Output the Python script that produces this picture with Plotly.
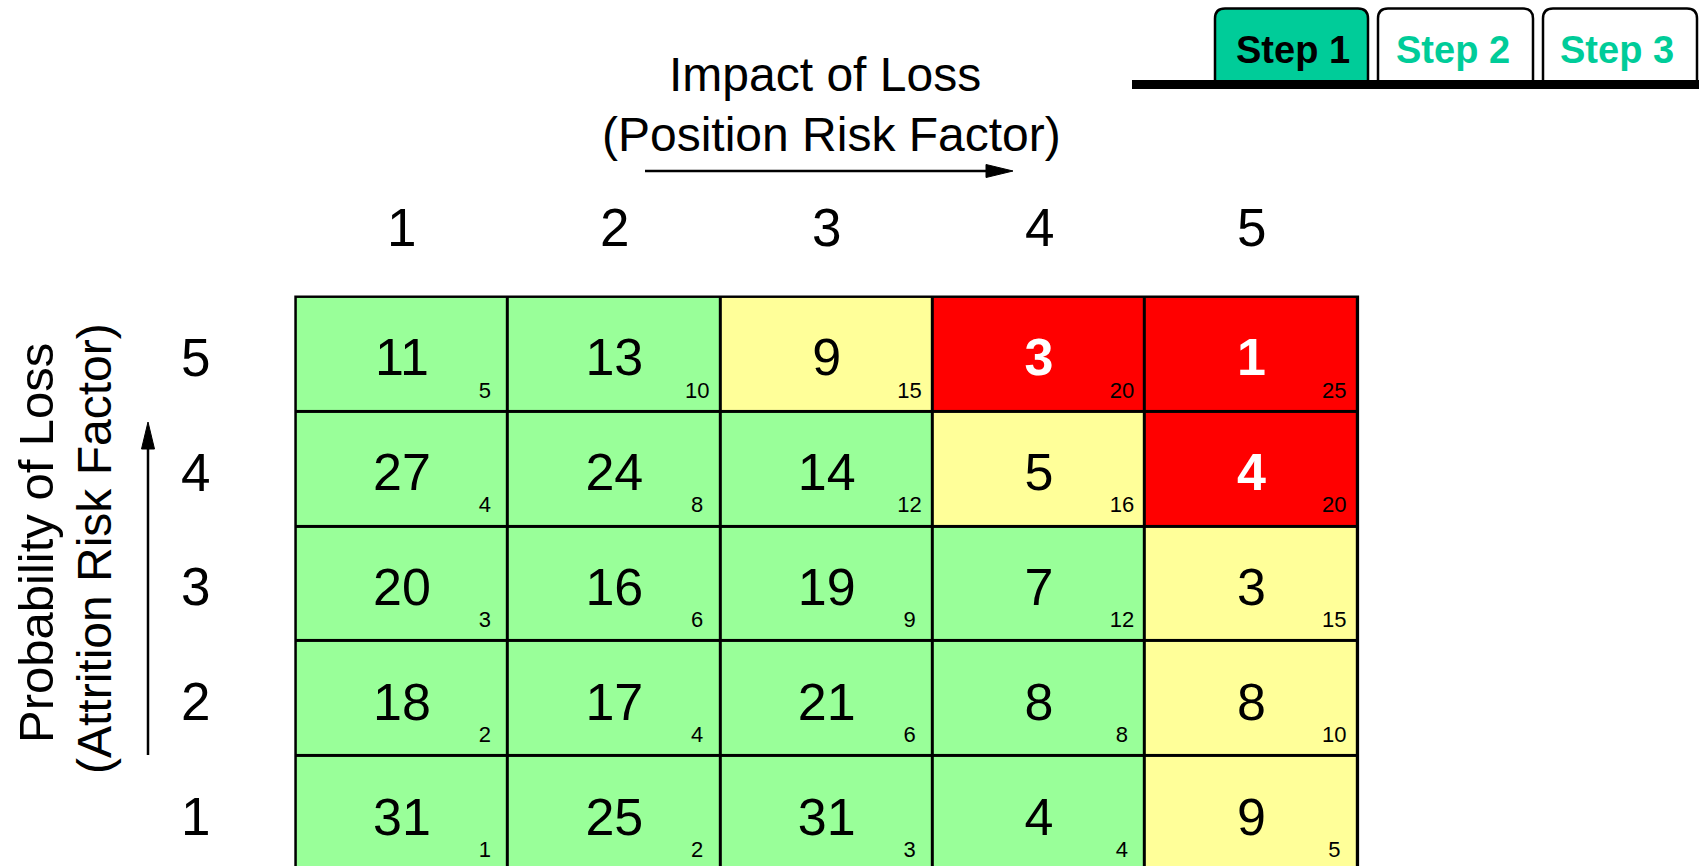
import plotly.graph_objects as go

W, H = 1699, 866
FONT = "Liberation Sans, Arial, sans-serif"

# ---------------- data ----------------
impact_levels = [1, 2, 3, 4, 5]          # Position Risk Factor (columns)
probability_levels = [1, 2, 3, 4, 5]     # Attrition Risk Factor (rows, bottom->top)
impact_labels = ["1", "2", "3", "4", "5"]
probability_labels = ["1", "2", "3", "4", "5"]

# employee counts per cell, rows = probability 1..5
counts_p1 = [31, 25, 31, 4, 9]
counts_p2 = [18, 17, 21, 8, 8]
counts_p3 = [20, 16, 19, 7, 3]
counts_p4 = [27, 24, 14, 5, 4]
counts_p5 = [11, 13, 9, 3, 1]
counts = [counts_p1, counts_p2, counts_p3, counts_p4, counts_p5]

# risk score printed in the corner of each cell
scores_p1 = [1, 2, 3, 4, 5]
scores_p2 = [2, 4, 6, 8, 10]
scores_p3 = [3, 6, 9, 12, 15]
scores_p4 = [4, 8, 12, 16, 20]
scores_p5 = [5, 10, 15, 20, 25]
scores = [scores_p1, scores_p2, scores_p3, scores_p4, scores_p5]

# risk band: 0 = low (green), 1 = medium (yellow), 2 = high (red)
risk_p1 = [0, 0, 0, 0, 1]
risk_p2 = [0, 0, 0, 0, 1]
risk_p3 = [0, 0, 0, 0, 1]
risk_p4 = [0, 0, 0, 1, 2]
risk_p5 = [0, 0, 1, 2, 2]
risk_level = [risk_p1, risk_p2, risk_p3, risk_p4, risk_p5]

step_labels = ["Step 1", "Step 2", "Step 3"]
active_step = 0

# ---------------- styles ----------------
GREEN = "#99FF99"
YELLOW = "#FFFF99"
RED = "#FF0000"
TEAL = "#00CC99"


def px(x):
    return x / W


def py(y):
    return 1 - y / H


fig = go.Figure()

fig.add_trace(go.Heatmap(
    x=impact_levels, y=probability_levels, z=risk_level,
    zmin=0, zmax=2,
    colorscale=[[0, GREEN], [1 / 3, GREEN], [1 / 3, YELLOW], [2 / 3, YELLOW],
                [2 / 3, RED], [1, RED]],
    showscale=False, xgap=3, ygap=3, hoverinfo="skip",
))

# big counts
bx, by, bt, bc = [], [], [], []
sx, sy, st = [], [], []
for i, p in enumerate(probability_levels):
    for j, imp in enumerate(impact_levels):
        high = risk_level[i][j] == 2
        bx.append(imp)
        by.append(p - 0.07)
        bt.append(f"<b>{counts[i][j]}</b>" if high else str(counts[i][j]))
        bc.append("white" if high else "black")
        sx.append(imp + 0.39)
        sy.append(p - 0.33)
        st.append(str(scores[i][j]))

fig.add_trace(go.Scatter(
    x=bx, y=by, text=bt, mode="text", textposition="middle center",
    textfont=dict(family=FONT, size=52, color=bc),
    hoverinfo="skip", cliponaxis=False, showlegend=False,
))
fig.add_trace(go.Scatter(
    x=sx, y=sy, text=st, mode="text", textposition="middle center",
    textfont=dict(family=FONT, size=22, color="black"),
    hoverinfo="skip", cliponaxis=False, showlegend=False,
))

shapes = []
# black backing -> grid lines through heatmap gaps
shapes.append(dict(
    type="rect", xref="x", yref="y", layer="below",
    x0=min(impact_levels) - 0.5, x1=max(impact_levels) + 0.5,
    y0=min(probability_levels) - 0.5, y1=max(probability_levels) + 0.5,
    fillcolor="black", line=dict(color="black", width=3),
))

# horizontal arrow under x title
shapes.append(dict(type="line", xref="paper", yref="paper",
                   x0=px(645), x1=px(990), y0=py(171), y1=py(171),
                   line=dict(color="black", width=2.5)))
shapes.append(dict(type="path", xref="paper", yref="paper",
                   path=f"M{px(1013)},{py(171)} L{px(986)},{py(164.5)} L{px(986)},{py(177.5)} Z",
                   fillcolor="black", line=dict(color="black", width=1)))
# vertical arrow beside y title
shapes.append(dict(type="line", xref="paper", yref="paper",
                   x0=px(148), x1=px(148), y0=py(755), y1=py(445),
                   line=dict(color="black", width=2.5)))
shapes.append(dict(type="path", xref="paper", yref="paper",
                   path=f"M{px(148)},{py(422)} L{px(141.5)},{py(449)} L{px(154.5)},{py(449)} Z",
                   fillcolor="black", line=dict(color="black", width=1)))


def tab_path(x0, x1, yt, yb, r):
    return (f"M{px(x0)},{py(yb)} L{px(x0)},{py(yt + r)} Q{px(x0)},{py(yt)} {px(x0 + r)},{py(yt)} "
            f"L{px(x1 - r)},{py(yt)} Q{px(x1)},{py(yt)} {px(x1)},{py(yt + r)} L{px(x1)},{py(yb)} Z")


tab_x = [(1215, 1368), (1378, 1533), (1543, 1697)]
annotations = []
for k, (x0, x1) in enumerate(tab_x):
    shapes.append(dict(type="path", xref="paper", yref="paper",
                       path=tab_path(x0, x1, 8.5, 84, 10),
                       fillcolor=TEAL if k == active_step else "white",
                       line=dict(color="black", width=2.5)))
    annotations.append(dict(
        xref="paper", yref="paper", x=px((x0 + x1) / 2 + (1 if k == 0 else -3)), y=py(50),
        text=f"<b>{step_labels[k]}</b>", showarrow=False,
        xanchor="center", yanchor="middle",
        font=dict(family=FONT, size=38, color="black" if k == active_step else TEAL),
    ))
# tab baseline
shapes.append(dict(type="rect", xref="paper", yref="paper",
                   x0=px(1132), x1=px(1699), y0=py(89), y1=py(80),
                   fillcolor="black", line=dict(width=0)))

# titles
annotations.append(dict(xref="paper", yref="paper", x=px(825), y=py(75),
                        text="Impact of Loss", showarrow=False,
                        xanchor="center", yanchor="middle",
                        font=dict(family=FONT, size=48, color="black")))
annotations.append(dict(xref="paper", yref="paper", x=px(831), y=py(135),
                        text="(Position Risk Factor)", showarrow=False,
                        xanchor="center", yanchor="middle",
                        font=dict(family=FONT, size=48, color="black")))
annotations.append(dict(xref="paper", yref="paper", x=px(36), y=py(543),
                        text="Probability of Loss", showarrow=False, textangle=-90,
                        xanchor="center", yanchor="middle",
                        font=dict(family=FONT, size=49, color="black")))
annotations.append(dict(xref="paper", yref="paper", x=px(94), y=py(549),
                        text="(Attrition Risk Factor)", showarrow=False, textangle=-90,
                        xanchor="center", yanchor="middle",
                        font=dict(family=FONT, size=48, color="black")))

# column and row headers
for imp, lab in zip(impact_levels, impact_labels):
    annotations.append(dict(xref="x", yref="paper", x=imp, y=py(227),
                            text=lab, showarrow=False, xanchor="center", yanchor="middle",
                            font=dict(family=FONT, size=53, color="black")))
for p, lab in zip(probability_levels, probability_labels):
    annotations.append(dict(xref="paper", yref="y", x=px(195), y=p, yshift=-3,
                            text=lab, showarrow=False, xanchor="center", yanchor="middle",
                            font=dict(family=FONT, size=53, color="black")))

fig.update_layout(
    width=W, height=H,
    margin=dict(l=0, r=0, t=0, b=0, pad=0),
    paper_bgcolor="white", plot_bgcolor="white",
    xaxis=dict(range=[-0.8929, 7.1076], visible=False, fixedrange=True),
    yaxis=dict(range=[0.5427, 8.086], visible=False, fixedrange=True),
    shapes=shapes, annotations=annotations,
    showlegend=False,
)

fig.write_html("out.html", config={"displayModeBar": False},
               post_script="document.body.style.margin='0';document.body.style.overflow='hidden';")
